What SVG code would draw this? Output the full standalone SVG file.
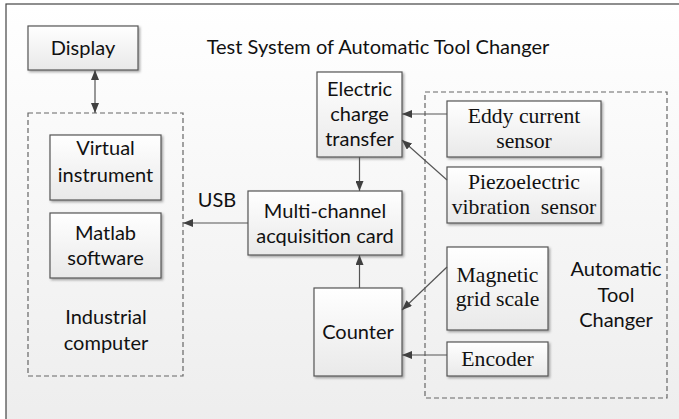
<svg xmlns="http://www.w3.org/2000/svg" width="679" height="419" viewBox="0 0 679 419">
  <defs>
    <linearGradient id="bg" x1="0" y1="0" x2="0" y2="1">
      <stop offset="0" stop-color="#ffffff"/>
      <stop offset="1" stop-color="#ededed"/>
    </linearGradient>
    <linearGradient id="boxfill" x1="0" y1="0" x2="0" y2="1">
      <stop offset="0" stop-color="#ffffff"/>
      <stop offset="1" stop-color="#e9e9e9"/>
    </linearGradient>
    <filter id="shadow" x="-10%" y="-10%" width="130%" height="130%">
      <feDropShadow dx="1.5" dy="1.5" stdDeviation="1" flood-color="#000" flood-opacity="0.35"/>
    </filter>
    <marker id="arrow" viewBox="0 0 10 8" refX="10" refY="4" markerWidth="10" markerHeight="8" markerUnits="userSpaceOnUse" orient="auto-start-reverse">
      <path d="M0,0 L10,4 L0,8 Z" fill="#404040"/>
    </marker>
    <style>
      .box { fill: url(#boxfill); stroke: #555; stroke-width: 1.2; filter: url(#shadow); }
      .group { fill: none; stroke: #666; stroke-width: 1.2; stroke-dasharray: 5 3; }
      .sans { font-family: Lato, "Liberation Sans", sans-serif; font-size: 20px; fill: #111; text-anchor: middle; }
      .serif { font-family: "Liberation Serif", "Times New Roman", serif; font-size: 21.7px; fill: #111; text-anchor: middle; }
      .conn { fill: none; stroke: #555; stroke-width: 1.2; marker-end: url(#arrow); }
    </style>
  </defs>

  <!-- background frame -->
  <rect x="0" y="0" width="679" height="419" fill="#ffffff"/>
  <rect x="6" y="4" width="690" height="430" fill="url(#bg)" stroke="#444" stroke-width="1.2"/>

  <!-- title -->
  <text x="378" y="54" class="sans" id="title">Test System of Automatic Tool Changer</text>

  <!-- dashed grouping boxes -->
  <g id="industrial-computer">
    <rect x="28" y="113" width="155" height="263" class="group"/>
    <text x="106" y="324" class="sans">Industrial</text>
    <text x="106" y="350" class="sans">computer</text>
  </g>
  <g id="automatic-tool-changer">
    <rect x="425" y="92" width="242" height="306" class="group"/>
    <text x="616" y="276" class="sans">Automatic</text>
    <text x="616" y="302" class="sans">Tool</text>
    <text x="616" y="327" class="sans">Changer</text>
  </g>

  <!-- nodes -->
  <g id="display">
    <rect x="28" y="26" width="110" height="44" class="box"/>
    <text x="83" y="55" class="sans">Display</text>
  </g>
  <g id="virtual-instrument">
    <rect x="50" y="135" width="111" height="65" class="box"/>
    <text x="105.5" y="155" class="sans">Virtual</text>
    <text x="105.5" y="182" class="sans">instrument</text>
  </g>
  <g id="matlab-software">
    <rect x="50" y="213" width="111" height="65" class="box"/>
    <text x="105.5" y="240" class="sans">Matlab</text>
    <text x="105.5" y="265" class="sans">software</text>
  </g>
  <g id="electric-charge-transfer">
    <rect x="317" y="72" width="85" height="85" class="box"/>
    <text x="359.5" y="96" class="sans">Electric</text>
    <text x="359.5" y="121" class="sans">charge</text>
    <text x="359.5" y="146" class="sans">transfer</text>
  </g>
  <g id="acquisition-card">
    <rect x="248" y="191" width="154" height="64" class="box"/>
    <text x="325" y="218" class="sans">Multi-channel</text>
    <text x="325" y="243" class="sans">acquisition card</text>
  </g>
  <g id="counter">
    <rect x="314" y="288" width="88" height="88" class="box"/>
    <text x="358" y="339" class="sans">Counter</text>
  </g>
  <g id="eddy-current-sensor">
    <rect x="447" y="101" width="154" height="56" class="box"/>
    <text x="524" y="123" class="serif">Eddy current</text>
    <text x="524" y="148" class="serif">sensor</text>
  </g>
  <g id="piezoelectric-sensor">
    <rect x="447" y="167" width="154" height="56" class="box"/>
    <text x="524" y="189" class="serif">Piezoelectric</text>
    <text x="524" y="214" class="serif" xml:space="preserve">vibration  sensor</text>
  </g>
  <g id="magnetic-grid-scale">
    <rect x="447" y="247" width="101" height="83" class="box"/>
    <text x="497.5" y="282" class="serif">Magnetic</text>
    <text x="497.5" y="306" class="serif">grid scale</text>
  </g>
  <g id="encoder">
    <rect x="447" y="342" width="101" height="34" class="box"/>
    <text x="497.5" y="366" class="serif">Encoder</text>
  </g>

  <!-- connectors -->
  <g id="connectors">
    <line x1="95" y1="70" x2="95" y2="113" class="conn" marker-start="url(#arrow)"/>
    <line x1="359.5" y1="157" x2="359.5" y2="191" class="conn"/>
    <line x1="359.5" y1="288" x2="359.5" y2="255" class="conn"/>
    <line x1="248" y1="223" x2="183" y2="223" class="conn"/>
    <line x1="447" y1="114" x2="402" y2="114" class="conn"/>
    <line x1="447" y1="180" x2="402" y2="140" class="conn"/>
    <line x1="447" y1="267" x2="402" y2="310" class="conn"/>
    <line x1="447" y1="355" x2="402" y2="355" class="conn"/>
    <text x="217" y="207" class="sans">USB</text>
  </g>
</svg>
